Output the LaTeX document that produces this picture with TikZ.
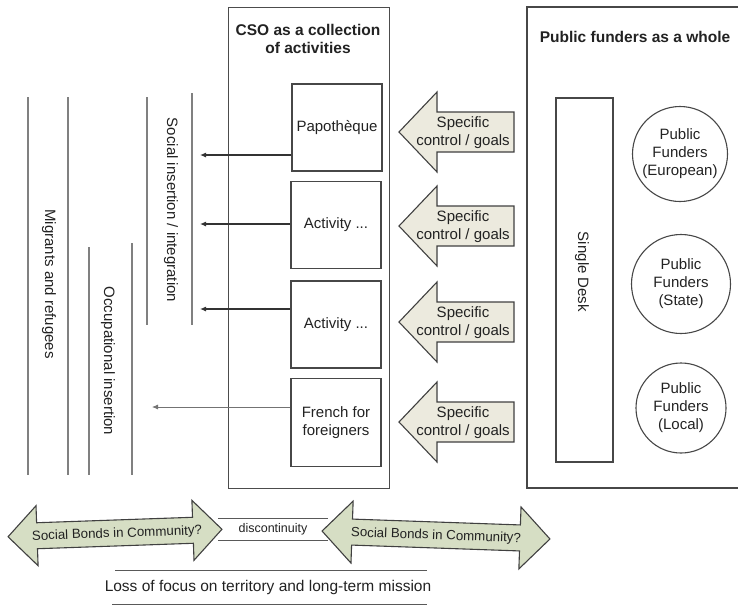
\documentclass[tikz,border=0pt]{standalone}
\usepackage{fontspec}
\setmainfont{Liberation Sans}
\usetikzlibrary{arrows.meta}
\definecolor{beige}{RGB}{236,234,222}
\definecolor{sage}{RGB}{214,222,196}
\definecolor{ink}{RGB}{34,34,34}
\begin{document}
\begin{tikzpicture}[x=1pt,y=-1pt,
  every node/.style={font=\fontsize{15}{18}\selectfont, text=ink, inner sep=0pt, align=center},
  frame/.style={draw=black!72, line width=1.3pt},
  actbox/.style={frame, minimum width=90pt, minimum height=87pt},
  funder/.style={draw=black!72, line width=1.1pt, circle},
  vline/.style={draw=black!50, line width=2pt},
  link/.style={draw=black!80, line width=1.1pt, -{Latex[length=6pt,width=5pt]}},
  linklight/.style={draw=black!55, line width=0.8pt, -{Latex[length=6pt,width=5pt]}},
  ctrl/.style={draw=black!75, line width=1.1pt, fill=beige, line join=miter},
  bond/.style={draw=black!75, line width=1.1pt, fill=sage, line join=miter},
  bold/.style={font=\fontsize{15.5}{18}\selectfont\bfseries}]
\useasboundingbox (0,0) rectangle (738,606);

% CSO box
\node[draw=black!70, line width=1pt, minimum width=161pt, minimum height=481pt, anchor=north west] (cso) at (228,7) {};
\node[bold] (csotitle) at (308,39) {CSO as a collection\\of activities};

% Public funders box (open on the right, cut by the page)
\draw[frame] (745,7) -- (527,7) -- (527,488) -- (745,488);
\node[bold] (pftitle) at (635,37) {Public funders as a whole};

% Single desk
\node[frame, line width=1.1pt, minimum width=57pt, minimum height=364pt] (desk) at (584.5,280) {};
\node[rotate=-90] (desktext) at (582,272) {Single Desk};

% Funders
\node[funder, minimum size=95pt] (eu) at (680,154) {Public\\Funders\\(European)};
\node[funder, minimum size=99pt] (state) at (681,284) {Public\\Funders\\(State)};
\node[funder, minimum size=90pt] (local) at (681,408) {Public\\Funders\\(Local)};

% Activities
\node[actbox] (a1) at (337,127.5) {Papoth\`eque};
\node[actbox] (a2) at (336,225) {Activity ...};
\node[actbox] (a3) at (336,324.5) {Activity ...};
\node[actbox, minimum height=88pt] (a4) at (336,422.5) {French for\\foreigners};

% Connectors to the left
\coordinate (t1) at (200,155);
\coordinate (t2) at (200,224);
\coordinate (t3) at (200,309);
\coordinate (t4) at (152,407);
\draw[link] (a1.west |- t1) -- (t1);
\draw[link] (a2.west |- t2) -- (t2);
\draw[link] (a3.west |- t3) -- (t3);
\draw[linklight] (a4.west |- t4) -- (t4);

% Vertical lines and their labels
\draw[vline] (28,97) -- (28,475);
\draw[vline] (68,97) -- (68,475);
\draw[vline] (89,247) -- (89,475);
\draw[vline] (132,243) -- (132,475);
\draw[vline] (147,97) -- (147,325);
\draw[vline] (192,93) -- (192,325);
\node[rotate=-90] (social) at (171,210) {Social insertion / integration};
\node[rotate=-90] (migrants) at (49,284) {Migrants and refugees};
\node[rotate=-90] (occup) at (108,361) {Occupational insertion};

% Specific control arrows
\foreach \c/\n in {132/1,226/2,322/3,422/4}{
  \draw[ctrl] (399,\c) -- (437,\c-40) -- (437,\c-20) -- (514,\c-20) -- (514,\c+20)
    -- (437,\c+20) -- (437,\c+40) -- cycle;
  \node (ctrl\n) at (463,\c+1) {Specific\\control / goals};
}

% Social bonds double arrows
\begin{scope}[shift={(115,533)}, rotate=2]
  \draw[bond] (-107,0) -- (-78,-30) -- (-78,-13) -- (78,-13) -- (78,-30) -- (107,0)
    -- (78,30) -- (78,13) -- (-78,13) -- (-78,30) -- cycle;
  \node[transform shape, font=\fontsize{13.3}{15}\selectfont] (bondL) at (2,1) {Social Bonds in Community?};
\end{scope}
\begin{scope}[shift={(436,535)}, rotate=-2]
  \draw[bond] (-114,0) -- (-84,-31) -- (-84,-13) -- (84,-13) -- (84,-31) -- (114,0)
    -- (84,31) -- (84,13) -- (-84,13) -- (-84,31) -- cycle;
  \node[transform shape, font=\fontsize{13.3}{15}\selectfont] (bondR) at (0,1) {Social Bonds in Community?};
\end{scope}

% discontinuity
\draw[draw=black!65, line width=1pt] (218,518) -- (328,518);
\draw[draw=black!65, line width=1pt] (218,540) -- (328,540);
\node[font=\fontsize{12.5}{14}\selectfont] (disc) at (273,529) {discontinuity};

% Loss of focus
\draw[draw=black!65, line width=1pt] (115,570) -- (427,570);
\draw[draw=black!65, line width=1pt] (112,604) -- (427,604);
\node[font=\fontsize{15.5}{18}\selectfont] (loss) at (268,587) {Loss of focus on territory and long-term mission};
\end{tikzpicture}
\end{document}
